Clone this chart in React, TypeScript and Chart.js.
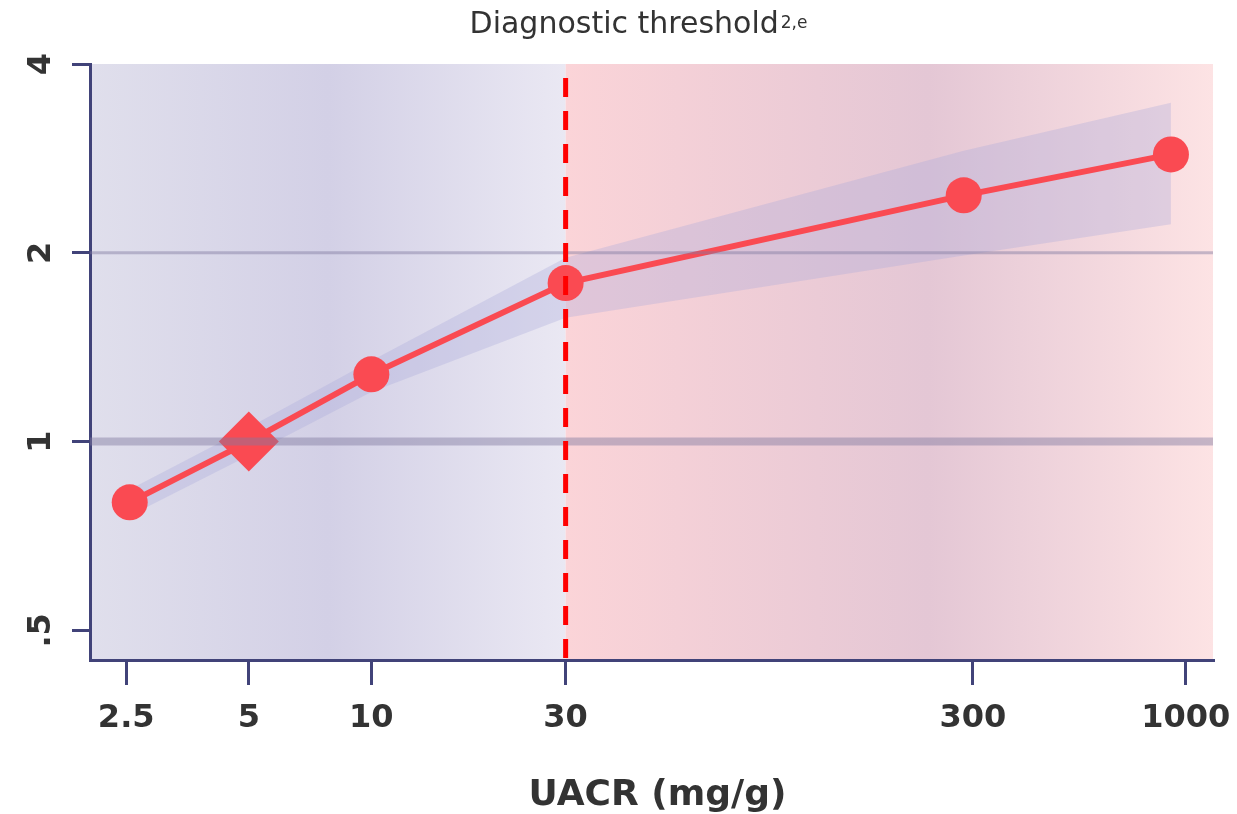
import React, { useEffect, useRef } from 'react';
import { Chart, registerables } from 'chart.js';

Chart.register(...registerables);

// ---- data ----
const uacr = [2.55, 5, 10, 30, 285, 920];
const hazardRatio = [0.8, 1.0, 1.28, 1.79, 2.47, 2.87];
const ciLower = [0.762, 0.95, 1.2, 1.575, 1.98, 2.22];
const ciUpper = [0.839, 1.053, 1.345, 1.964, 2.91, 3.47];
const pointShapes = ['circle', 'rectRot', 'circle', 'circle', 'circle', 'circle'];
const xTickValues = [2.5, 5, 10, 30, 300, 1000];
const xTickLabels = ['2.5', '5', '10', '30', '300', '1000'];
const yTickValues = [0.5, 1, 2, 4];
const yTickLabels = ['.5', '1', '2', '4'];
const referenceLines = [1, 2];
const thresholdValue = 30;
const titleMain = 'Diagnostic threshold';
const titleSup = '2,e';
const xAxisTitle = 'UACR (mg/g)';

// ---- styles ----
const FONT = '"DejaVu Sans", Verdana, sans-serif';
const NAVY = '#414379';
const TEXT = '#333333';
const RED = '#fa4a52';

const backgroundPlugin = {
  id: 'regionBackground',
  beforeDraw(chart: any) {
    const { ctx, chartArea: a, scales } = chart;
    const xt = scales.x.getPixelForValue(thresholdValue);
    ctx.save();
    let g = ctx.createLinearGradient(a.left, 0, xt, 0);
    g.addColorStop(0, '#e0dfec');
    g.addColorStop(0.5, '#d3d0e6');
    g.addColorStop(1, '#eae8f3');
    ctx.fillStyle = g;
    ctx.fillRect(a.left, a.top, xt - a.left, a.bottom - a.top);
    g = ctx.createLinearGradient(xt, 0, a.right, 0);
    g.addColorStop(0, '#fbd4d8');
    g.addColorStop(0.56, '#e4c7d5');
    g.addColorStop(1, '#fde3e4');
    ctx.fillStyle = g;
    ctx.fillRect(xt, a.top, a.right - xt, a.bottom - a.top);
    ctx.restore();
  },
};

const overlayPlugin = {
  id: 'overlayLines',
  afterDatasetsDraw(chart: any) {
    const { ctx, chartArea: a, scales } = chart;
    ctx.save();
    referenceLines.forEach((v, i) => {
      const y = scales.y.getPixelForValue(v);
      ctx.strokeStyle = 'rgba(128,122,160,0.45)';
      ctx.lineWidth = i === 0 ? 8 : 3;
      ctx.beginPath();
      ctx.moveTo(a.left, y);
      ctx.lineTo(a.right, y);
      ctx.stroke();
    });
    const xt = scales.x.getPixelForValue(thresholdValue);
    ctx.strokeStyle = '#ff0000';
    ctx.lineWidth = 5;
    ctx.setLineDash([19, 14]);
    ctx.lineDashOffset = 19;
    ctx.beginPath();
    ctx.moveTo(xt, a.top);
    ctx.lineTo(xt, a.bottom);
    ctx.stroke();
    ctx.restore();
  },
};

const textPlugin = {
  id: 'texts',
  afterDraw(chart: any) {
    const { ctx, chartArea: a, scales } = chart;
    ctx.save();
    ctx.fillStyle = TEXT;
    // title with superscript
    ctx.font = `30px ${FONT}`;
    ctx.textAlign = 'left';
    ctx.textBaseline = 'alphabetic';
    const mainW = ctx.measureText(titleMain).width;
    ctx.font = `17px ${FONT}`;
    const supW = ctx.measureText(titleSup).width;
    const tx = (a.left + a.right) / 2 - 13 - (mainW + supW + 2) / 2;
    ctx.font = `30px ${FONT}`;
    ctx.fillText(titleMain, tx, 33);
    ctx.font = `17px ${FONT}`;
    ctx.fillText(titleSup, tx + mainW + 2, 28);
    // y tick labels (rotated)
    ctx.font = `bold 32px ${FONT}`;
    ctx.textAlign = 'center';
    yTickValues.forEach((v, i) => {
      const y = scales.y.getPixelForValue(v);
      ctx.save();
      ctx.translate(38.7, y);
      ctx.rotate(-Math.PI / 2);
      ctx.fillText(yTickLabels[i], 0, 11.7);
      ctx.restore();
    });
    // x axis title
    ctx.font = `bold 36px ${FONT}`;
    ctx.textAlign = 'center';
    ctx.fillText(xAxisTitle, (a.left + a.right) / 2 + 6, 805);
    ctx.restore();
  },
};

export default function App() {
  const ref = useRef<HTMLCanvasElement>(null);
  useEffect(() => {
    const canvas = ref.current as HTMLCanvasElement;
    const chart = new Chart(canvas, {
      type: 'line',
      data: {
        datasets: [
          {
            label: 'CI lower',
            data: uacr.map((x, i) => ({ x, y: ciLower[i] })),
            borderWidth: 0,
            pointRadius: 0,
            fill: false,
            backgroundColor: 'rgba(170,169,219,0.33)',
            order: 2,
          },
          {
            label: 'CI upper',
            data: uacr.map((x, i) => ({ x, y: ciUpper[i] })),
            borderWidth: 0,
            pointRadius: 0,
            fill: '-1',
            backgroundColor: 'rgba(170,169,219,0.33)',
            order: 1,
          },
          {
            label: 'Hazard ratio',
            data: uacr.map((x, i) => ({ x, y: hazardRatio[i] })),
            borderColor: RED,
            borderWidth: 6,
            backgroundColor: RED,
            pointBackgroundColor: RED,
            pointBorderWidth: 0,
            pointRadius: pointShapes.map((s) => (s === 'rectRot' ? 30 : 18)),
            pointStyle: pointShapes as any,
            fill: false,
            tension: 0,
            order: 0,
          },
        ],
      },
      options: {
        animation: false,
        responsive: false,
        devicePixelRatio: 1,
        events: [],
        layout: { padding: { top: 64, left: 0, right: 24, bottom: 0 } },
        plugins: {
          legend: { display: false },
          title: { display: false },
          tooltip: { enabled: false },
        },
        scales: {
          x: {
            type: 'logarithmic',
            min: 2.037,
            max: 1167,
            bounds: 'data',
            afterBuildTicks: (scale: any) => {
              scale.ticks = xTickValues.map((value) => ({ value }));
            },
            afterFit: (scale: any) => {
              scale.height = 154;
              scale.paddingLeft = 0;
              scale.paddingRight = 0;
            },
            grid: {
              drawOnChartArea: false,
              color: NAVY,
              lineWidth: 3,
              tickLength: 25,
            },
            border: { color: NAVY, width: 3 },
            ticks: {
              autoSkip: false,
              maxRotation: 0,
              minRotation: 0,
              padding: 14,
              color: TEXT,
              font: { family: FONT, size: 32, weight: 'bold' },
              callback: (value: any) => {
                const idx = xTickValues.indexOf(Number(value));
                return idx >= 0 ? xTickLabels[idx] : '';
              },
            },
          },
          y: {
            type: 'logarithmic',
            min: 0.4485,
            max: 4,
            bounds: 'data',
            afterBuildTicks: (scale: any) => {
              scale.ticks = yTickValues.map((value) => ({ value }));
            },
            afterFit: (scale: any) => {
              scale.width = 90;
              scale.paddingTop = 0;
              scale.paddingBottom = 0;
            },
            grid: {
              drawOnChartArea: false,
              color: NAVY,
              lineWidth: 3,
              tickLength: 18,
            },
            border: { color: NAVY, width: 3 },
            ticks: { display: false },
          },
        },
      },
      plugins: [backgroundPlugin, overlayPlugin, textPlugin],
    } as any);
    return () => chart.destroy();
  }, []);
  return (
    <div style={{ position: 'absolute', left: 0, top: 0, width: 1237, height: 814, background: '#ffffff' }}>
      <canvas ref={ref} width={1237} height={814} style={{ display: 'block', width: 1237, height: 814 }} />
    </div>
  );
}
